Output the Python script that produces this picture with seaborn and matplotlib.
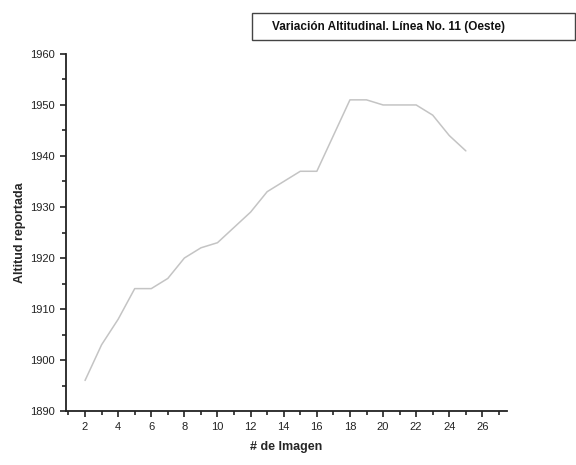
import matplotlib
matplotlib.use("Agg")
import matplotlib.pyplot as plt
import seaborn as sns
import pandas as pd
from matplotlib.patches import Rectangle
from matplotlib.ticker import MultipleLocator

# values
imagen = [2, 3, 4, 5, 6, 7, 8, 9, 10, 11, 12, 13, 14, 15, 16, 17, 18, 19, 20, 21, 22, 23, 24, 25]
altitud = [1896, 1903, 1908, 1914, 1914, 1916, 1920, 1922, 1923, 1926, 1929, 1933,
           1935, 1937, 1937, 1944, 1951, 1951, 1950, 1950, 1950, 1948, 1944, 1941]
x_ticks = [2, 4, 6, 8, 10, 12, 14, 16, 18, 20, 22, 24, 26]
y_ticks = [1890, 1900, 1910, 1920, 1930, 1940, 1950, 1960]

df = pd.DataFrame({"imagen": imagen, "altitud": altitud})

sns.set_style("ticks")
plt.rcParams['font.family'] = ['Liberation Sans Narrow', 'Liberation Sans', 'DejaVu Sans']

fig = plt.figure(figsize=(5.76, 4.65), dpi=100)
ax = fig.add_axes([0.1146, 0.116, 0.766, 0.768])

sns.lineplot(data=df, x="imagen", y="altitud", color="#c4c4c4", linewidth=1.1, ax=ax)

ax.set_xlim(0.85, 27.5)
ax.set_ylim(1890, 1960)
ax.set_xticks(x_ticks)
ax.set_yticks(y_ticks)
ax.xaxis.set_minor_locator(MultipleLocator(1))
ax.yaxis.set_minor_locator(MultipleLocator(5))
ax.tick_params(axis="both", which="major", length=4, width=1.2, labelsize=8, colors="#222222", pad=4)
ax.tick_params(axis="both", which="minor", length=3, width=1.2, colors="#222222")

for s in ["top", "right"]:
    ax.spines[s].set_visible(False)
for s in ["left", "bottom"]:
    ax.spines[s].set_linewidth(1.3)
    ax.spines[s].set_color("#222222")

ax.set_xlabel("# de Imagen", fontsize=9, fontweight="bold", labelpad=6)
ax.set_ylabel("Altitud reportada", fontsize=9, fontweight="bold", labelpad=3)

# title box at the top right
fig.patches.append(Rectangle((252 / 576, 1 - 40 / 465), (575 - 252) / 576, 27 / 465,
                             transform=fig.transFigure, fill=False, edgecolor="#444444", linewidth=1))
fig.text(389 / 576, 1 - 27 / 465, "Variación Altitudinal. Línea No. 11 (Oeste)",
         ha="center", va="center", fontsize=8.5, fontweight="bold", color="#111111")

fig.savefig("out.png", dpi=100)
